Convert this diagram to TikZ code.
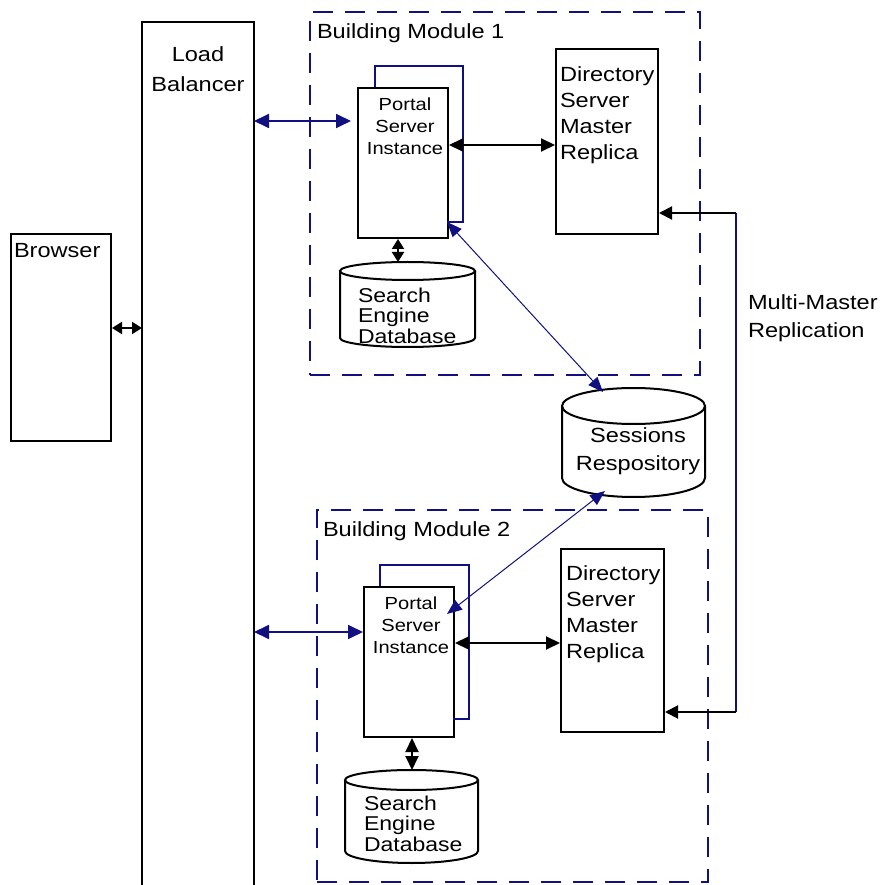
\documentclass[tikz,border=0pt]{standalone}
\usepackage{fontspec}
\setmainfont{Liberation Sans}[FakeStretch=1.15]
\usetikzlibrary{arrows.meta,calc}

\definecolor{navy}{RGB}{16,16,128}

\newcommand\txtA{\fontsize{20.5}{26}\selectfont}
\newcommand\txtLB{\fontsize{20.5}{30}\selectfont}
\newcommand\txtMM{\fontsize{20.5}{28}\selectfont}
\newcommand\txtDB{\fontsize{20}{20.5}\selectfont}
\newcommand\txtPS{\fontsize{17.5}{21.7}\selectfont}

\tikzset{
  box/.style={draw=black, line width=2pt, inner sep=0pt, anchor=north west},
  frame/.style={inner sep=0pt, outer sep=0pt, anchor=north west},
  module/.style={draw=navy, line width=2.4pt, dash pattern=on 20pt off 12pt,
                 inner sep=0pt, outer sep=0pt, anchor=north west},
  cyl/.style={draw=black, line width=2pt},
  label/.style={inner sep=0pt, outer sep=0pt, text=black},
  blink/.style={draw=black, line width=2pt, {Triangle[length=14pt,width=13pt]}-{Triangle[length=14pt,width=13pt]}},
  shortlink/.style={draw=black, line width=2pt, {Triangle[length=10pt,width=12pt]}-{Triangle[length=10pt,width=12pt]}},
  nlink/.style={draw=navy, line width=1.8pt, {Triangle[length=15pt,width=14pt]}-{Triangle[length=15pt,width=14pt]}},
  dlink/.style={draw=navy, line width=1pt, {Triangle[length=15pt,width=12pt]}-{Triangle[length=15pt,width=12pt]}},
  loop/.style={draw=navy, line width=2pt},
  single/.style={draw=black, line width=2pt, -{Triangle[length=13pt,width=13pt]}},
}

\begin{document}
\begin{tikzpicture}[x=1pt, y=-1pt]
\useasboundingbox (0,0) rectangle (887,885);

% ---- building modules ----
\node[module, minimum width=390pt, minimum height=363pt] (mod1) at (310,12) {};
\node[module, minimum width=391pt, minimum height=372pt] (mod2) at (317,510) {};
\node[label, anchor=north west, font=\txtA] (mod1txt) at (317,23.5) {Building Module 1};
\node[label, anchor=north west, font=\txtA] (mod2txt) at (323,521.5) {Building Module 2};

% ---- browser and load balancer ----
\node[box, minimum width=100pt, minimum height=207pt] (browser) at (10,233) {};
\node[label, anchor=north west, font=\txtA] (browsertxt) at (14,243.5) {Browser};

\node[frame, minimum width=112pt, minimum height=866pt] (lb) at (142,22) {};
\draw[line width=2pt] (lb.south west) -- (lb.north west) -- (lb.north east) -- (lb.south east);
\node[label, anchor=north, align=center, font=\txtLB] (lbtxt) at (198,47) {Load\\Balancer};

% ---- portal server instances ----
\node[box, minimum width=90pt, minimum height=150pt] (psi1) at (357,87) {};
\node[label, anchor=north, align=center, font=\txtPS] (psi1txt) at (405,98) {Portal\\Server\\Instance};
\node[box, minimum width=90pt, minimum height=150pt] (psi2) at (363,586) {};
\node[label, anchor=north, align=center, font=\txtPS] (psi2txt) at (411,597) {Portal\\Server\\Instance};

% self loops
\coordinate (loop1end) at (447,222);
\draw[loop] ($(psi1.north west)+(18,0)$) -- (375,66) -- (463,66) -- (463,222) -- (loop1end);
\coordinate (loop2end) at (453,719);
\draw[loop] ($(psi2.north west)+(17,0)$) -- (380,565) -- (469,565) -- (469,719) -- (loop2end);

% ---- directory servers ----
\node[box, minimum width=102pt, minimum height=185pt] (dir1) at (555,48) {};
\node[label, anchor=north west, align=left, font=\txtA] (dir1txt) at (560,66.5) {Directory\\Server\\Master\\Replica};
\node[box, minimum width=103pt, minimum height=183pt] (dir2) at (560,548) {};
\node[label, anchor=north west, align=left, font=\txtA] (dir2txt) at (566,565.5) {Directory\\Server\\Master\\Replica};

% ---- cylinders ----
\node[frame, minimum width=135pt, minimum height=85pt] (sdb1) at (340,262) {};
\draw[cyl] ([yshift=-9pt]sdb1.north) ellipse [x radius=67.5pt, y radius=9pt];
\draw[cyl] ([yshift=-9pt]sdb1.north west) -- ([yshift=9pt]sdb1.south west)
  arc[start angle=180, end angle=360, x radius=67.5pt, y radius=9pt] -- ([yshift=-9pt]sdb1.north east);
\node[label, anchor=north west, align=left, font=\txtDB] (sdb1txt) at (358,288) {Search\\Engine\\Database};

\node[frame, minimum width=133pt, minimum height=93pt] (sdb2) at (345,770) {};
\draw[cyl] ([yshift=-10pt]sdb2.north) ellipse [x radius=66.5pt, y radius=10pt];
\draw[cyl] ([yshift=-10pt]sdb2.north west) -- ([yshift=12pt]sdb2.south west)
  arc[start angle=180, end angle=360, x radius=66.5pt, y radius=12pt] -- ([yshift=-10pt]sdb2.north east);
\node[label, anchor=north west, align=left, font=\txtDB] (sdb2txt) at (364,796) {Search\\Engine\\Database};

\node[frame, minimum width=143pt, minimum height=109pt] (sess) at (562,388) {};
\draw[cyl] ([yshift=-18pt]sess.north) ellipse [x radius=71.5pt, y radius=18pt];
\draw[cyl] ([yshift=-18pt]sess.north west) -- ([yshift=19pt]sess.south west)
  arc[start angle=180, end angle=360, x radius=71.5pt, y radius=19pt] -- ([yshift=-18pt]sess.north east);
\node[label, anchor=north, align=center, font=\txtMM] (sesstxt) at (638,428) {Sessions\\Respository};

% ---- connectors ----
\draw[shortlink] (browser.east |- 0,328) -- (lb.west |- 0,328);

\draw[nlink, shorten >=6pt] (lb.east |- 0,121) -- (psi1.west |- 0,121);
\draw[nlink] (lb.east |- 0,632) -- (psi2.west |- 0,632);

\draw[blink] (psi1.east |- 0,145) -- (dir1.west |- 0,145);
\draw[blink] (psi2.east |- 0,643) -- (dir2.west |- 0,643);

\draw[shortlink] (psi1.south -| 398,0) -- (sdb1.north -| 398,0);
\draw[blink] (psi2.south -| 412,0) -- (sdb2.north -| 412,0);

\coordinate (sessTop) at (603,392);
\coordinate (sessBot) at (605,491);
\coordinate (psi2in) at (447,614);
\draw[dlink] (loop1end) -- (sessTop);
\draw[dlink] (psi2in) -- (sessBot);

% multi-master replication
\coordinate (mm1) at (736,213);
\coordinate (mm2) at (736,712);
\draw[loop] (mm1) -- (mm2);
\draw[single] (mm1) -- (dir1.east |- mm1);
\draw[single] (mm2) -- (dir2.east |- mm2);
\node[label, anchor=north west, align=left, font=\txtMM] (mmtxt) at (748,295) {Multi-Master\\Replication};

\end{tikzpicture}
\end{document}
